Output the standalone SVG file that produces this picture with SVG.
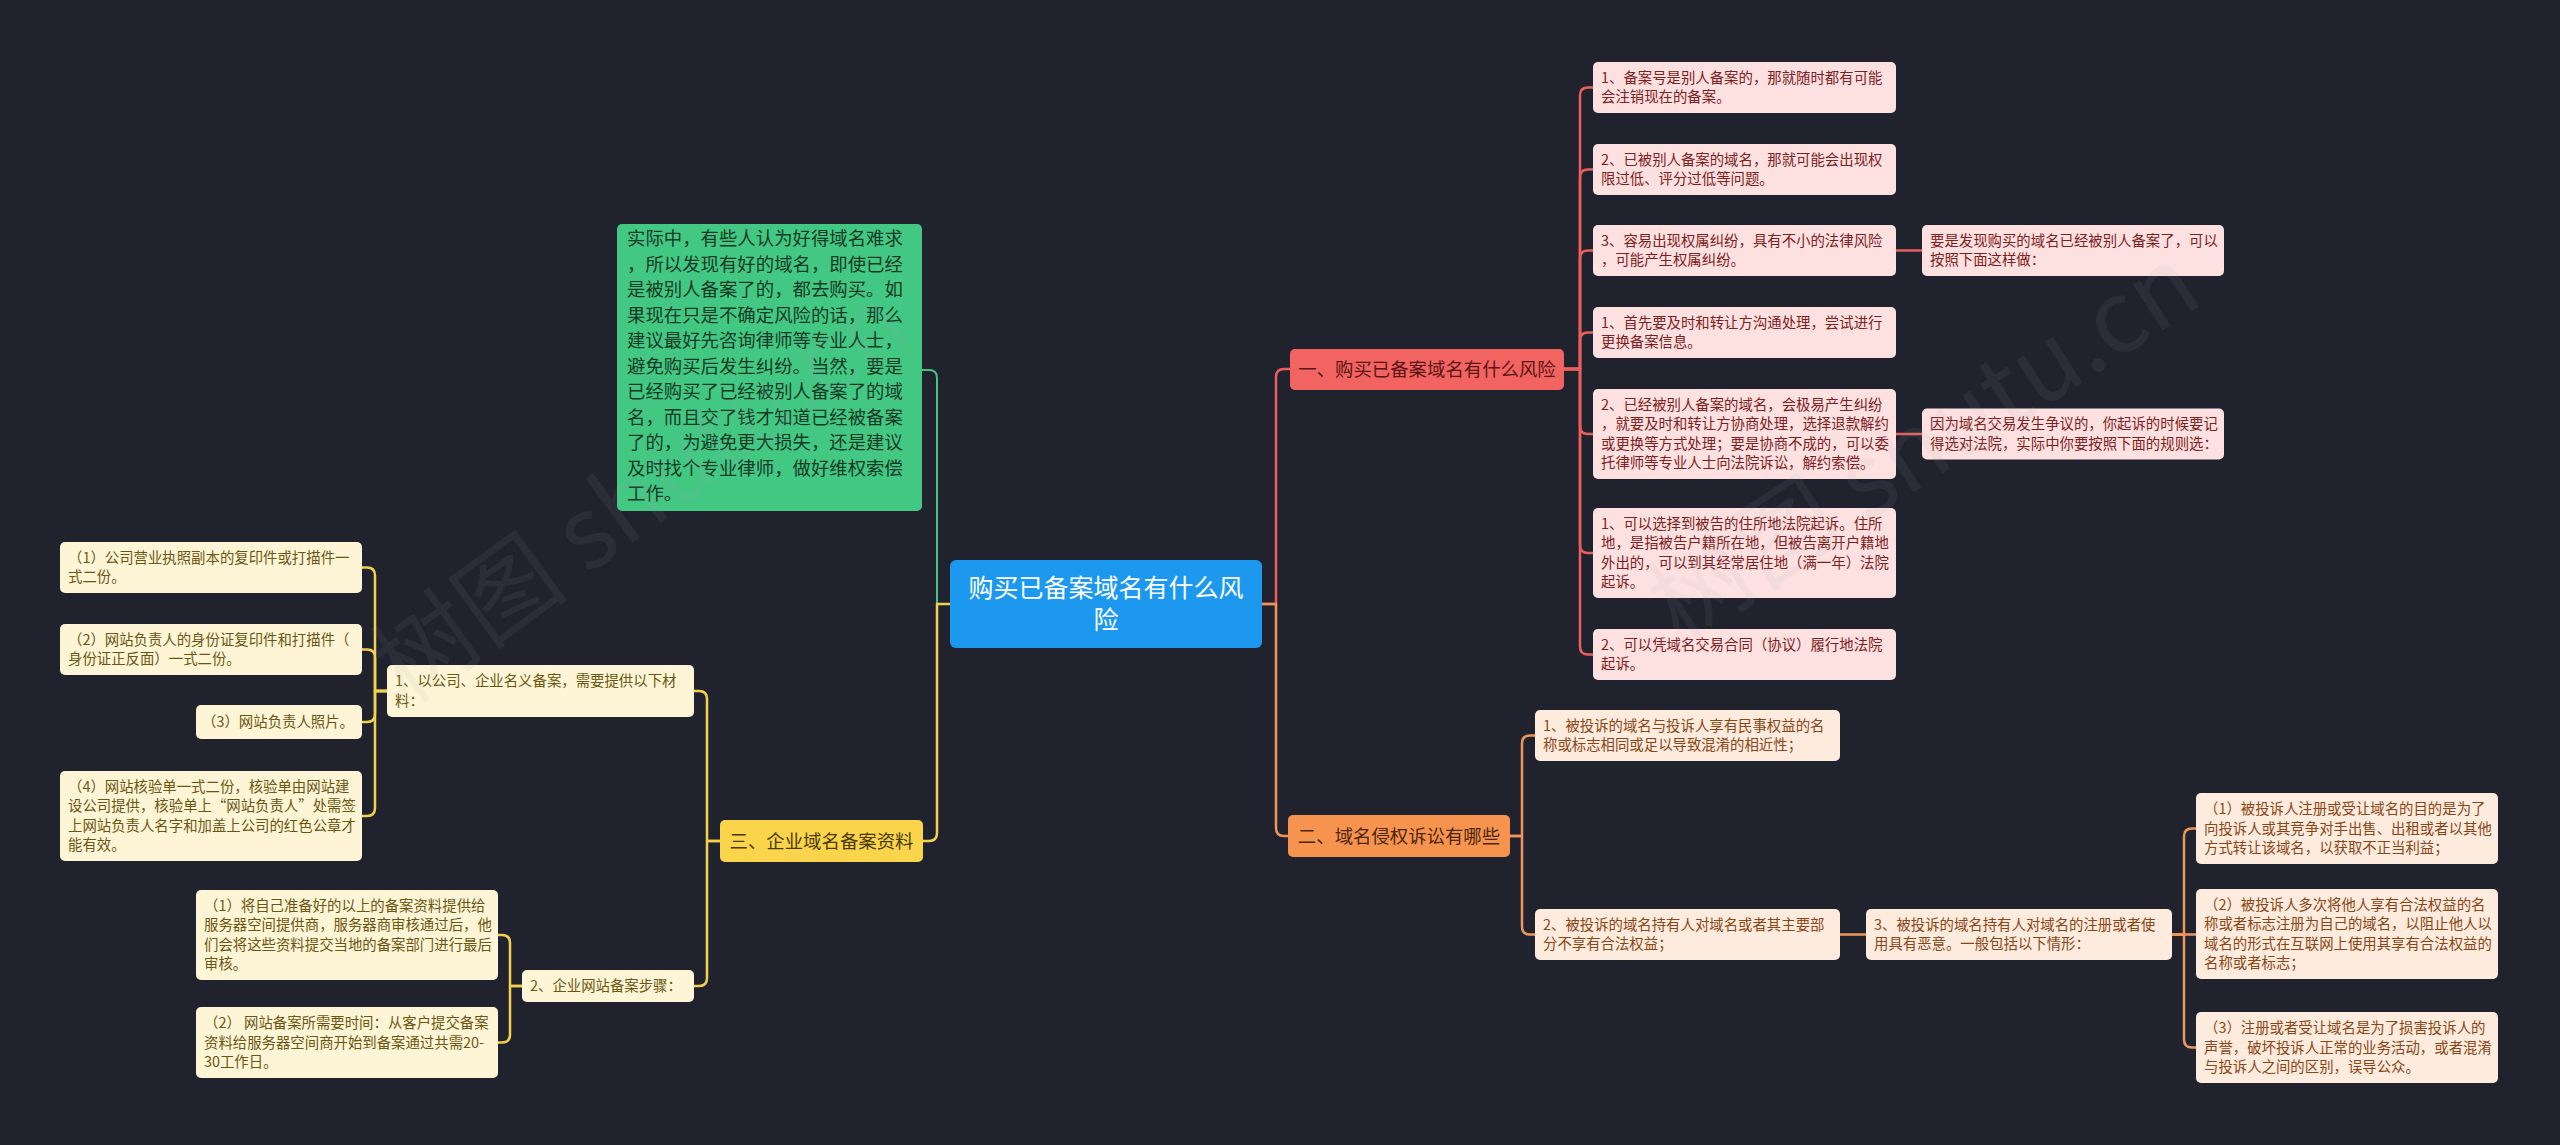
<svg xmlns="http://www.w3.org/2000/svg" width="2560" height="1145" viewBox="0 0 2560 1145">
<style>
text{font-family:"Noto Sans CJK SC","Microsoft YaHei","Noto Sans",sans-serif}
.c{fill:none;stroke-width:2.5;stroke-linecap:round;stroke-linejoin:round}
.cr{stroke:#e85f5e}.co{stroke:#f0955a}.cy{stroke:#f3d14f}.cg{stroke:#43c583;stroke-width:2}
.pk{fill:#fde1e1}.pe{fill:#fdebdd}.cm{fill:#fdf5d6}
.tr{font-size:14.4px;fill:#7d2020}.to{font-size:14.4px;fill:#8a4616}.ty{font-size:14.4px;fill:#6b5612}
.h{font-size:18.4px;text-anchor:middle}
.wm{font-size:100px;fill:#a0a4ac;fill-opacity:0.09;text-anchor:middle}
</style>
<rect width="2560" height="1145" fill="#20232e"/>
<g id="connectors">
<path class="c cr" d="M1262 604H1276V377Q1276 369 1284 369H1290"/>
<path class="c co" d="M1262 604H1276V828Q1276 836 1284 836H1288"/>
<path class="c cg" d="M950 604H937V378Q937 370 929 370H922"/>
<path class="c cy" d="M950 604H937V833Q937 841 929 841H923"/>
<path class="c cr" d="M1564 369H1580V95.5Q1580 87.5 1588 87.5H1593"/>
<path class="c cr" d="M1564 369H1580V177.5Q1580 169.5 1588 169.5H1593"/>
<path class="c cr" d="M1564 369H1580V258.5Q1580 250.5 1588 250.5H1593"/>
<path class="c cr" d="M1564 369H1580V340.5Q1580 332.5 1588 332.5H1593"/>
<path class="c cr" d="M1564 369H1580V426Q1580 434 1588 434H1593"/>
<path class="c cr" d="M1564 369H1580V545Q1580 553 1588 553H1593"/>
<path class="c cr" d="M1564 369H1580V646.5Q1580 654.5 1588 654.5H1593"/>
<path class="c cr" d="M1896 250.5H1922"/>
<path class="c cr" d="M1896 434H1922"/>
<path class="c co" d="M1510 836H1522V743.5Q1522 735.5 1530 735.5H1535"/>
<path class="c co" d="M1510 836H1522V926.5Q1522 934.5 1530 934.5H1535"/>
<path class="c co" d="M1840 934.5H1866"/>
<path class="c co" d="M2172 934.5H2184V836.5Q2184 828.5 2192 828.5H2196"/>
<path class="c co" d="M2172 934.5H2196"/>
<path class="c co" d="M2172 934.5H2184V1039.5Q2184 1047.5 2192 1047.5H2196"/>
<path class="c cy" d="M720 841H707V699Q707 691 699 691H694"/>
<path class="c cy" d="M720 841H707V978Q707 986 699 986H694"/>
<path class="c cy" d="M387 691H375V575.5Q375 567.5 367 567.5H362"/>
<path class="c cy" d="M387 691H375V657.5Q375 649.5 367 649.5H362"/>
<path class="c cy" d="M387 691H375V714Q375 722 367 722H362"/>
<path class="c cy" d="M387 691H375V808Q375 816 367 816H362"/>
<path class="c cy" d="M522 986H510V943Q510 935 502 935H498"/>
<path class="c cy" d="M522 986H510V1034.5Q510 1042.5 502 1042.5H498"/>
</g>
<g id="center">
<rect x="950" y="560" width="312" height="88" rx="6" fill="#1c98ef"/>
<text x="1106" y="597" font-size="25" fill="#ffffff" text-anchor="middle">购买已备案域名有什么风</text>
<text x="1106" y="629" font-size="25" fill="#ffffff" text-anchor="middle">险</text>
</g>
<g id="green-note">
<rect x="617" y="224" width="305" height="287" rx="5" fill="#42c883"/>
<text font-size="18.4" fill="#163a25">
<tspan x="627" y="245.1">实际中，有些人认为好得域名难求</tspan>
<tspan x="627" y="270.6">，所以发现有好的域名，即使已经</tspan>
<tspan x="627" y="296.1">是被别人备案了的，都去购买。如</tspan>
<tspan x="627" y="321.6">果现在只是不确定风险的话，那么</tspan>
<tspan x="627" y="347.1">建议最好先咨询律师等专业人士，</tspan>
<tspan x="627" y="372.6">避免购买后发生纠纷。当然，要是</tspan>
<tspan x="627" y="398.1">已经购买了已经被别人备案了的域</tspan>
<tspan x="627" y="423.6">名，而且交了钱才知道已经被备案</tspan>
<tspan x="627" y="449.1">了的，为避免更大损失，还是建议</tspan>
<tspan x="627" y="474.6">及时找个专业律师，做好维权索偿</tspan>
<tspan x="627" y="500.1">工作。</tspan>
</text>
</g>
<g id="h1">
<rect x="1290" y="349" width="274" height="41" rx="5" fill="#f26462"/>
<text class="h" x="1427" y="375.5" fill="#5b1414">一、购买已备案域名有什么风险</text>
</g>
<g id="h2">
<rect x="1288" y="815" width="222" height="42" rx="5" fill="#f6944f"/>
<text class="h" x="1399" y="842.5" fill="#4d2608">二、域名侵权诉讼有哪些</text>
</g>
<g id="h3">
<rect x="720" y="820" width="203" height="42" rx="5" fill="#fad54c"/>
<text class="h" x="821.5" y="847.5" fill="#4a3a00">三、企业域名备案资料</text>
</g>
<g id="b1"><rect class="pk" x="1593" y="62" width="303" height="51" rx="5"/>
<text class="tr"><tspan x="1601" y="82.75">1、备案号是别人备案的，那就随时都有可能</tspan><tspan x="1601" y="102.25">会注销现在的备案。</tspan></text></g>
<g id="b2"><rect class="pk" x="1593" y="144" width="303" height="51" rx="5"/>
<text class="tr"><tspan x="1601" y="164.75">2、已被别人备案的域名，那就可能会出现权</tspan><tspan x="1601" y="184.25">限过低、评分过低等问题。</tspan></text></g>
<g id="b3"><rect class="pk" x="1593" y="225" width="303" height="51" rx="5"/>
<text class="tr"><tspan x="1601" y="245.75">3、容易出现权属纠纷，具有不小的法律风险</tspan><tspan x="1601" y="265.25">，可能产生权属纠纷。</tspan></text></g>
<g id="b3c"><rect class="pk" x="1922" y="225" width="302" height="51" rx="5"/>
<text class="tr"><tspan x="1930" y="245.75">要是发现购买的域名已经被别人备案了，可以</tspan><tspan x="1930" y="265.25">按照下面这样做：</tspan></text></g>
<g id="b4"><rect class="pk" x="1593" y="307" width="303" height="51" rx="5"/>
<text class="tr"><tspan x="1601" y="327.75">1、首先要及时和转让方沟通处理，尝试进行</tspan><tspan x="1601" y="347.25">更换备案信息。</tspan></text></g>
<g id="b5"><rect class="pk" x="1593" y="389" width="303" height="90" rx="5"/>
<text class="tr"><tspan x="1601" y="409.75">2、已经被别人备案的域名，会极易产生纠纷</tspan><tspan x="1601" y="429.25">，就要及时和转让方协商处理，选择退款解约</tspan><tspan x="1601" y="448.75">或更换等方式处理；要是协商不成的，可以委</tspan><tspan x="1601" y="468.25">托律师等专业人士向法院诉讼，解约索偿。</tspan></text></g>
<g id="b5c"><rect class="pk" x="1922" y="408.5" width="302" height="51" rx="5"/>
<text class="tr"><tspan x="1930" y="429.25">因为域名交易发生争议的，你起诉的时候要记</tspan><tspan x="1930" y="448.75">得选对法院，实际中你要按照下面的规则选：</tspan></text></g>
<g id="b6"><rect class="pk" x="1593" y="508" width="303" height="90" rx="5"/>
<text class="tr"><tspan x="1601" y="528.75">1、可以选择到被告的住所地法院起诉。住所</tspan><tspan x="1601" y="548.25">地，是指被告户籍所在地，但被告离开户籍地</tspan><tspan x="1601" y="567.75">外出的，可以到其经常居住地（满一年）法院</tspan><tspan x="1601" y="587.25">起诉。</tspan></text></g>
<g id="b7"><rect class="pk" x="1593" y="629" width="303" height="51" rx="5"/>
<text class="tr"><tspan x="1601" y="649.75">2、可以凭域名交易合同（协议）履行地法院</tspan><tspan x="1601" y="669.25">起诉。</tspan></text></g>
<g id="o1"><rect class="pe" x="1535" y="710" width="305" height="51" rx="5"/>
<text class="to"><tspan x="1543" y="730.75">1、被投诉的域名与投诉人享有民事权益的名</tspan><tspan x="1543" y="750.25">称或标志相同或足以导致混淆的相近性；</tspan></text></g>
<g id="o2"><rect class="pe" x="1535" y="909" width="305" height="51" rx="5"/>
<text class="to"><tspan x="1543" y="929.75">2、被投诉的域名持有人对域名或者其主要部</tspan><tspan x="1543" y="949.25">分不享有合法权益；</tspan></text></g>
<g id="o3"><rect class="pe" x="1866" y="909" width="306" height="51" rx="5"/>
<text class="to"><tspan x="1874" y="929.75">3、被投诉的域名持有人对域名的注册或者使</tspan><tspan x="1874" y="949.25">用具有恶意。一般包括以下情形：</tspan></text></g>
<g id="o3a"><rect class="pe" x="2196" y="793" width="302" height="71" rx="5"/>
<text class="to"><tspan x="2204" y="814">（1）被投诉人注册或受让域名的目的是为了</tspan><tspan x="2204" y="833.5">向投诉人或其竞争对手出售、出租或者以其他</tspan><tspan x="2204" y="853">方式转让该域名，以获取不正当利益；</tspan></text></g>
<g id="o3b"><rect class="pe" x="2196" y="889" width="302" height="90" rx="5"/>
<text class="to"><tspan x="2204" y="909.75">（2）被投诉人多次将他人享有合法权益的名</tspan><tspan x="2204" y="929.25">称或者标志注册为自己的域名，以阻止他人以</tspan><tspan x="2204" y="948.75">域名的形式在互联网上使用其享有合法权益的</tspan><tspan x="2204" y="968.25">名称或者标志；</tspan></text></g>
<g id="o3c"><rect class="pe" x="2196" y="1012" width="302" height="71" rx="5"/>
<text class="to"><tspan x="2204" y="1033">（3）注册或者受让域名是为了损害投诉人的</tspan><tspan x="2204" y="1052.5">声誉，破坏投诉人正常的业务活动，或者混淆</tspan><tspan x="2204" y="1072">与投诉人之间的区别，误导公众。</tspan></text></g>
<g id="y1"><rect class="cm" x="387" y="665" width="307" height="52" rx="5"/>
<text class="ty"><tspan x="395" y="686.25">1、以公司、企业名义备案，需要提供以下材</tspan><tspan x="395" y="705.75">料：</tspan></text></g>
<g id="ya"><rect class="cm" x="60" y="542" width="302" height="51" rx="5"/>
<text class="ty"><tspan x="68" y="562.75">（1）公司营业执照副本的复印件或打描件一</tspan><tspan x="68" y="582.25">式二份。</tspan></text></g>
<g id="yb"><rect class="cm" x="60" y="624" width="302" height="51" rx="5"/>
<text class="ty"><tspan x="68" y="644.75">（2）网站负责人的身份证复印件和打描件（</tspan><tspan x="68" y="664.25">身份证正反面）一式二份。</tspan></text></g>
<g id="yc"><rect class="cm" x="196" y="705" width="166" height="34" rx="5"/>
<text class="ty" x="354" y="727" text-anchor="end">（3）网站负责人照片。</text></g>
<g id="yd"><rect class="cm" x="60" y="771" width="302" height="90" rx="5"/>
<text class="ty"><tspan x="68" y="791.75">（4）网站核验单一式二份，核验单由网站建</tspan><tspan x="68" y="811.25">设公司提供，核验单上“网站负责人”处需签</tspan><tspan x="68" y="830.75">上网站负责人名字和加盖上公司的红色公章才</tspan><tspan x="68" y="850.25">能有效。</tspan></text></g>
<g id="y2"><rect class="cm" x="522" y="970" width="172" height="32" rx="5"/>
<text class="ty" x="530" y="991">2、企业网站备案步骤：</text></g>
<g id="ye"><rect class="cm" x="196" y="890" width="302" height="90" rx="5"/>
<text class="ty"><tspan x="204" y="910.75">（1）将自己准备好的以上的备案资料提供给</tspan><tspan x="204" y="930.25">服务器空间提供商，服务器商审核通过后，他</tspan><tspan x="204" y="949.75">们会将这些资料提交当地的备案部门进行最后</tspan><tspan x="204" y="969.25">审核。</tspan></text></g>
<g id="yf"><rect class="cm" x="196" y="1007" width="302" height="71" rx="5"/>
<text class="ty"><tspan x="204" y="1028">（2） 网站备案所需要时间：从客户提交备案</tspan><tspan x="204" y="1047.5">资料给服务器空间商开始到备案通过共需20-</tspan><tspan x="204" y="1067">30工作日。</tspan></text></g>
<g id="watermarks">
<text class="wm" transform="translate(661 522) rotate(-36)">树图 shutu.cn</text>
<text class="wm" transform="translate(1943 473) rotate(-33)">树图 shutu.cn</text>
</g>
</svg>
